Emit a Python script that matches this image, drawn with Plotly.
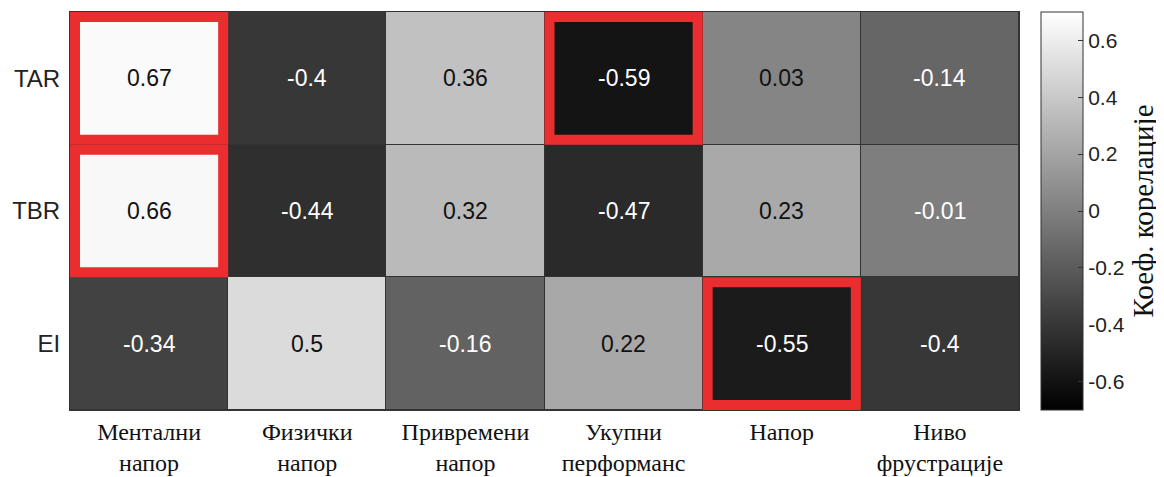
import plotly.graph_objects as go

rows = ["TAR", "TBR", "EI"]
cols = ["Ментални<br>напор", "Физички<br>напор", "Привремени<br>напор",
        "Укупни<br>перформанс", "Напор", "Ниво<br>фрустрације"]
values = [
    [0.67, -0.40, 0.36, -0.59, 0.03, -0.14],
    [0.66, -0.44, 0.32, -0.47, 0.23, -0.01],
    [-0.34, 0.50, -0.16, 0.22, -0.55, -0.40],
]
labels = [
    ["0.67", "-0.4", "0.36", "-0.59", "0.03", "-0.14"],
    ["0.66", "-0.44", "0.32", "-0.47", "0.23", "-0.01"],
    ["-0.34", "0.5", "-0.16", "0.22", "-0.55", "-0.4"],
]
highlight = [("TAR", 0), ("TBR", 0), ("TAR", 3), ("EI", 4)]
cbar_ticks = [-0.6, -0.4, -0.2, 0, 0.2, 0.4, 0.6]
cbar_text = ["-0.6", "-0.4", "-0.2", "0", "0.2", "0.4", "0.6"]

W, H = 1164, 477
ML, MR, MT, MB = 62, 153, 4, 75

fig = go.Figure()
fig.add_trace(go.Heatmap(
    z=values, x=list(range(len(cols))), y=list(range(len(rows))),
    colorscale=[[0, "#000000"], [1, "#ffffff"]], zmin=-0.7, zmax=0.7,
    xgap=1, ygap=1, hoverinfo="skip",
    colorbar=dict(
        x=(1033 - ML) / (W - ML - MR), xanchor="left", xpad=0,
        y=0.5, len=1.0, lenmode="fraction", ypad=0,
        thickness=42, outlinewidth=1, outlinecolor="#333333",
        tickvals=cbar_ticks, ticktext=cbar_text,
        ticks="inside", ticklen=5, tickcolor="#333333",
        tickfont=dict(family="Liberation Sans, Arial", size=21, color="#222222"),
        title=dict(text="Коеф. корелације", side="right",
                   font=dict(family="Liberation Serif, Times New Roman", size=29, color="#111111")),
    ),
))

annotations = []
for i, r in enumerate(rows):
    for j in range(len(cols)):
        v = values[i][j]
        annotations.append(dict(
            x=j, y=i, xref="x", yref="y", text=labels[i][j], showarrow=False,
            font=dict(family="Liberation Sans, Arial", size=23,
                      color="#ffffff" if v < 0 else "#111111"),
        ))

cell_w = (W - ML - MR) / len(cols)
cell_h = (H - MT - MB) / len(rows)
lw = 10
dx = (lw / 2) / cell_w
dy = (lw / 2) / cell_h
shapes = []
for r, c in highlight:
    i = rows.index(r)
    shapes.append(dict(
        type="rect", xref="x", yref="y",
        x0=c - 0.5 + dx, x1=c + 0.5 - dx, y0=i - 0.5 + dy, y1=i + 0.5 - dy,
        line=dict(color="#EA2D2E", width=lw), layer="above",
    ))

fig.update_layout(
    width=W, height=H, margin=dict(l=ML, r=MR, t=MT, b=MB),
    paper_bgcolor="#ffffff", plot_bgcolor="#333333",
    annotations=annotations, shapes=shapes,
    xaxis=dict(tickvals=list(range(len(cols))), ticktext=cols, showgrid=False,
               zeroline=False, ticks="", range=[-0.5, len(cols) - 0.5],
               showline=True, linecolor="#333333", mirror=True, linewidth=1,
               tickfont=dict(family="Liberation Serif, Times New Roman", size=24, color="#111111")),
    yaxis=dict(tickvals=list(range(len(rows))), ticktext=rows, showgrid=False,
               zeroline=False, ticks="", range=[len(rows) - 0.5, -0.5],
               showline=True, linecolor="#333333", mirror=True, linewidth=1,
               ticklabelstandoff=4,
               tickfont=dict(family="Liberation Sans, Arial", size=24, color="#222222")),
)

fig.write_html("out.html")
